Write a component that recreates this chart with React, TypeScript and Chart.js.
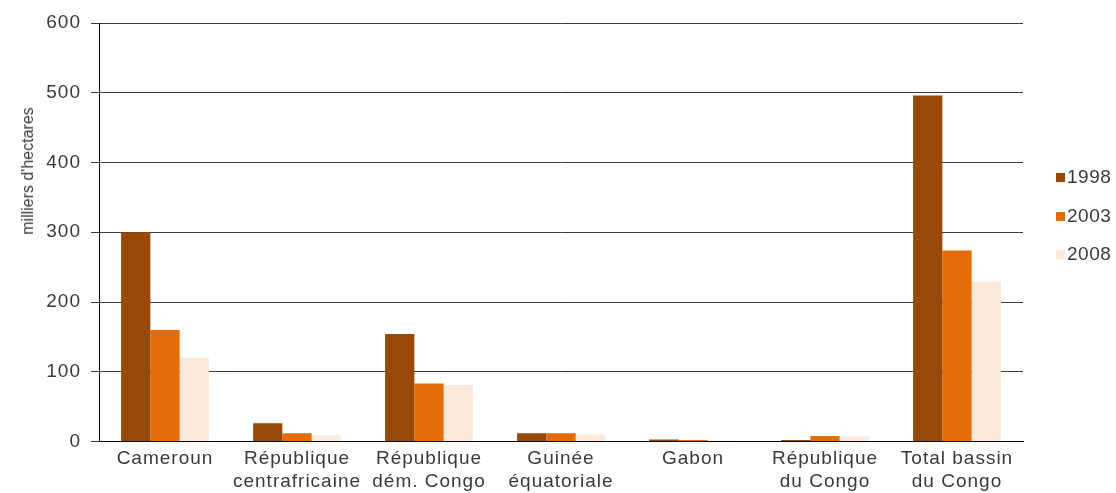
import React, { useEffect, useRef } from "react";
import { Chart, registerables } from "chart.js";

Chart.register(...registerables);

const categories: (string | string[])[] = [
  "Cameroun",
  ["République", "centrafricaine"],
  ["République", "dém. Congo"],
  ["Guinée", "équatoriale"],
  "Gabon",
  ["République", "du Congo"],
  ["Total bassin", "du Congo"],
];

const seriesNames = ["1998", "2003", "2008"];
const values1998 = [300, 26, 154, 12, 3, 2, 496];
const values2003 = [160, 12, 83, 12, 2, 8, 274];
const values2008 = [120, 9, 81, 10, 1, 7, 229];
const seriesColors = ["#984807", "#E46C0A", "#FDE9D9"];

const yTicks = [0, 100, 200, 300, 400, 500, 600];
const yTitle = "milliers d'hectares";

const FONT = "'Liberation Sans', Arial, sans-serif";
const TEXT = "#3a3a3a";

const letterSpacingPlugin = {
  id: "letterSpacing",
  beforeDraw(chart: any) {
    try {
      chart.ctx.letterSpacing = "1px";
    } catch (e) {}
  },
};

export default function App() {
  const ref = useRef<HTMLCanvasElement>(null);

  useEffect(() => {
    document.body.style.margin = "0";
    const chart = new Chart(ref.current!, {
      type: "bar",
      plugins: [letterSpacingPlugin],
      data: {
        labels: categories as any,
        datasets: [values1998, values2003, values2008].map((d, i) => ({
          label: seriesNames[i],
          data: d,
          backgroundColor: seriesColors[i],
          borderWidth: 0,
          categoryPercentage: 0.665,
          barPercentage: 1,
        })),
      },
      options: {
        animation: false,
        responsive: false,
        maintainAspectRatio: false,
        layout: { padding: { left: 0, right: 93, top: 23, bottom: 0 } },
        plugins: { legend: { display: false }, tooltip: { enabled: false } },
        scales: {
          x: {
            grid: { display: false },
            border: { display: true, color: "#000", width: 1 },
            ticks: {
              font: { family: FONT, size: 19, lineHeight: "23px" },
              color: TEXT,
              padding: -2,
              maxRotation: 0,
              minRotation: 0,
              autoSkip: false,
            },
            afterFit: (s: any) => {
              s.height = 51.5;
            },
          },
          y: {
            min: yTicks[0],
            max: yTicks[yTicks.length - 1],
            afterBuildTicks: (s: any) => {
              s.ticks = yTicks.map((v) => ({ value: v }));
            },
            ticks: {
              font: { family: FONT, size: 19 },
              color: TEXT,
              padding: 10,
            },
            grid: { color: "#3a3a3a", tickColor: "#3a3a3a", tickLength: 8, lineWidth: 1 },
            border: { display: true, color: "#000", width: 1 },
            afterFit: (s: any) => {
              s.width = 99;
            },
          },
        },
      },
    });
    return () => chart.destroy();
  }, []);

  const legendY = [177, 216, 254];

  return (
    <div style={{ position: "relative", width: 1116, height: 493, fontFamily: FONT }}>
      <canvas ref={ref} width={1116} height={493} style={{ display: "block" }} />
      <div
        style={{
          position: "absolute",
          left: 28,
          top: 171,
          transform: "translate(-50%, -50%) rotate(-90deg)",
          whiteSpace: "nowrap",
          fontSize: 16,
          color: TEXT,
          lineHeight: "16px",
        }}
      >
        {yTitle}
      </div>
      {seriesNames.map((n, i) => (
        <div
          key={n}
          style={{
            position: "absolute",
            left: 1056,
            top: legendY[i] - 12,
            height: 24,
            display: "flex",
            alignItems: "center",
            fontSize: 19,
            letterSpacing: "0.5px",
            color: TEXT,
            whiteSpace: "nowrap",
          }}
        >
          <span
            style={{
              display: "inline-block",
              width: 9,
              height: 9,
              background: seriesColors[i],
              marginRight: 2,
            }}
          />
          <span>{n}</span>
        </div>
      ))}
    </div>
  );
}
